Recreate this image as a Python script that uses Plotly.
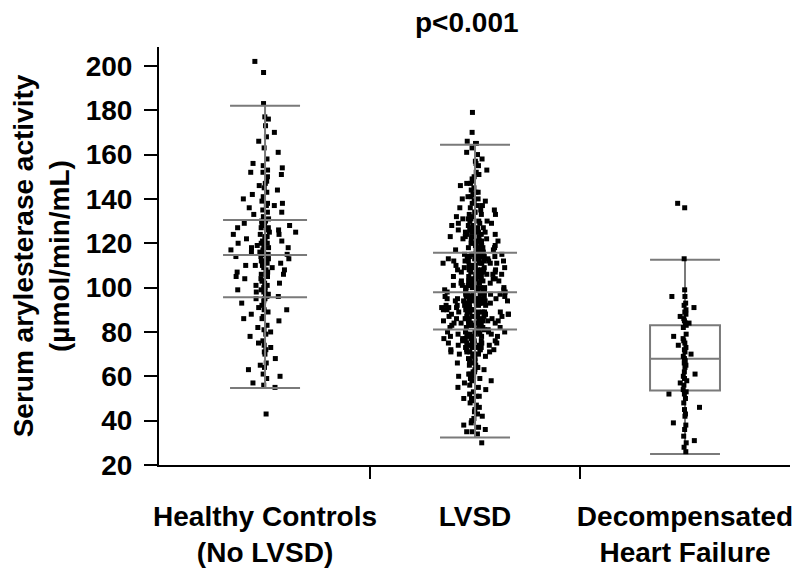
import plotly.graph_objects as go

# ---------------- data ----------------
categories = ["Healthy Controls<br>(No LVSD)", "LVSD", "Decompensated<br>Heart Failure"]
positions = [0, 1, 2]

healthy = [
    202, 197, 183, 177, 176, 173, 170, 168, 166, 163, 161, 158, 156, 155, 154, 153, 152, 152, 151, 150,
    148, 147, 146, 145, 144, 143, 142, 141, 140, 139, 138, 138, 137, 137, 136, 135, 134, 134, 133, 132,
    131, 130, 130, 129, 129, 128, 128, 127, 127, 127, 126, 126, 125, 125, 124, 124, 124, 123, 123, 122,
    122, 121, 121, 120, 120, 120, 119, 119, 118, 118, 118, 117, 117, 116, 116, 116, 115, 115, 115, 115,
    114, 114, 113, 113, 112, 112, 111, 111, 110, 110, 110, 109, 109, 108, 108, 107, 107, 106, 106, 105,
    105, 104, 104, 103, 103, 102, 102, 101, 101, 100, 100, 99, 99, 99, 98, 98, 97, 97, 96, 96,
    95, 95, 95, 94, 93, 92, 91, 90, 90, 89, 88, 87, 86, 86, 85, 83, 82, 81, 80, 79,
    78, 76, 75, 74, 73, 72, 71, 70, 68, 66, 65, 64, 63, 61, 60, 59, 57, 56, 55, 43,
]

lvsd = [
    179, 170, 166, 165, 165, 163, 161, 160, 158, 157, 156, 155, 153, 152, 151, 150, 149, 148, 147, 147,
    146, 145, 144, 143, 143, 142, 141, 141, 140, 140, 139, 139, 138, 137, 137, 136, 136, 135, 135, 134,
    134, 133, 133, 133, 132, 132, 131, 131, 131, 130, 130, 130, 129, 129, 129, 128, 128, 128, 127, 127,
    127, 126, 126, 126, 126, 125, 125, 125, 125, 124, 124, 124, 123, 123, 123, 123, 122, 122, 122, 121,
    121, 121, 121, 120, 120, 120, 119, 119, 119, 119, 118, 118, 118, 118, 117, 117, 117, 117, 116, 116,
    115, 115, 115, 115, 114, 114, 114, 114, 114, 114, 113, 113, 113, 113, 113, 112, 112, 112, 112, 112,
    112, 112, 111, 111, 111, 111, 111, 110, 110, 110, 110, 110, 110, 109, 109, 109, 109, 108, 108, 108,
    108, 108, 108, 107, 107, 107, 107, 107, 106, 106, 106, 106, 106, 106, 106, 105, 105, 105, 105, 105,
    104, 104, 104, 104, 104, 104, 103, 103, 103, 103, 103, 102, 102, 102, 102, 102, 102, 102, 101, 101,
    101, 101, 101, 100, 100, 100, 100, 100, 100, 99, 99, 99, 99, 99, 98, 98, 98, 98, 98, 98,
    97, 97, 97, 97, 97, 97, 96, 96, 96, 96, 96, 96, 95, 95, 95, 95, 95, 95, 95, 94,
    94, 94, 94, 94, 94, 93, 93, 93, 93, 93, 93, 93, 92, 92, 92, 92, 92, 92, 91, 91,
    91, 91, 91, 91, 90, 90, 90, 90, 90, 90, 90, 89, 89, 89, 89, 89, 89, 88, 88, 88,
    88, 88, 88, 87, 87, 87, 87, 87, 87, 87, 86, 86, 86, 86, 86, 86, 85, 85, 85, 85,
    85, 85, 84, 84, 84, 84, 84, 84, 83, 83, 83, 83, 83, 82, 82, 82, 82, 81, 81, 81,
    80, 80, 80, 80, 80, 80, 79, 79, 79, 79, 79, 79, 78, 78, 78, 78, 78, 77, 77, 77,
    77, 77, 76, 76, 76, 76, 76, 75, 75, 75, 75, 75, 74, 74, 74, 74, 74, 73, 73, 73,
    73, 72, 72, 72, 72, 72, 71, 71, 71, 71, 70, 70, 70, 70, 69, 69, 68, 68, 67, 67,
    66, 66, 65, 65, 64, 64, 63, 63, 62, 62, 61, 61, 60, 60, 59, 59, 58, 58, 57, 56,
    55, 55, 54, 53, 52, 51, 51, 50, 50, 49, 48, 47, 46, 45, 44, 43, 42, 41, 40, 39,
    38, 37, 36, 35, 35, 34, 30,
]

dhf = [
    138, 136, 113, 99, 96, 96, 93, 92, 91, 90, 89, 88, 87, 86, 85, 84, 84, 83, 82, 79,
    78, 77, 76, 75, 74, 73, 72, 71, 70, 69, 68, 67, 66, 65, 64, 62, 61, 60, 59, 58,
    57, 56, 54, 53, 52, 52, 50, 48, 46, 45, 43, 42, 39, 38, 36, 33, 31, 30, 28, 26,
]

q1 = [95.7, 81.1, 53.6]
median = [114.7, 97.9, 67.9]
q3 = [130.5, 115.7, 83.0]
lower_whisker = [54.7, 32.4, 25.0]
upper_whisker = [182.0, 164.4, 112.6]

y_ticks = [20, 40, 60, 80, 100, 120, 140, 160, 180, 200]
p_label = "p&lt;0.001"
y_title = "Serum arylesterase activity<br>(µmol/min/mL)"

# ---------------- styling ----------------
FONT = "Liberation Sans, Arial, Helvetica, sans-serif"
GRAY = "#7a7a7a"
FS = 28

# (slice step for scattered points, core width, scattered width) per group
spread_style = [(2, 0.05, 0.33), (2, 0.10, 0.32), (4, 0.02, 0.20)]

fig = go.Figure()

# Box for decompensated heart failure (full box)
fig.add_trace(go.Box(
    x=[positions[2]], q1=[q1[2]], median=[median[2]], q3=[q3[2]],
    lowerfence=[lower_whisker[2]], upperfence=[upper_whisker[2]],
    width=0.333, whiskerwidth=1, boxpoints=False,
    line=dict(color=GRAY, width=2), fillcolor="rgba(0,0,0,0)",
    showlegend=False, hoverinfo="skip",
))

# Jittered points for each group: a dense central column plus scattered points
for pos, vals, (step, w_core, w_wide) in zip(positions, [healthy, lvsd, dhf], spread_style):
    wide = vals[::step]
    core = [v for i, v in enumerate(vals) if i % step != 0]
    for sub, w in ((core, w_core), (wide, w_wide)):
        fig.add_trace(go.Box(
            x=[pos] * len(sub), y=sub,
            boxpoints="all", jitter=1, pointpos=0, width=w, whiskerwidth=0,
            line=dict(color="rgba(0,0,0,0)", width=0), fillcolor="rgba(0,0,0,0)",
            marker=dict(symbol="square", size=5, color="black", line=dict(width=0)),
            showlegend=False, hoverinfo="skip",
        ))

# Quartile lines and whiskers (no box sides) for first two groups
for i in (0, 1):
    fig.add_trace(go.Scatter(
        x=[positions[i]], y=[median[i]], mode="markers",
        marker=dict(size=1, opacity=0),
        error_y=dict(type="data", symmetric=False,
                     array=[upper_whisker[i] - median[i]],
                     arrayminus=[median[i] - lower_whisker[i]],
                     width=35, thickness=2, color=GRAY),
        showlegend=False, hoverinfo="skip",
    ))
    fig.add_trace(go.Scatter(
        x=[positions[i]] * 3, y=[q1[i], median[i], q3[i]], mode="markers",
        marker=dict(symbol="line-ew", size=60, line=dict(width=2, color=GRAY)),
        showlegend=False, hoverinfo="skip",
    ))

fig.add_annotation(
    text=p_label, x=0.96, xref="x", y=1.058, yref="paper",
    xanchor="center", yanchor="middle", showarrow=False,
    font=dict(family=FONT, size=FS, color="black", weight="bold"),
)

# the page body adds an 8px offset, so the figure is 792x562
fig.update_layout(
    width=792, height=562,
    margin=dict(l=151, r=10, t=39, b=105),
    paper_bgcolor="white", plot_bgcolor="white",
    boxmode="overlay", showlegend=False,
    font=dict(family=FONT, color="black"),
)

fig.update_xaxes(
    range=[-0.505, 2.5], tickmode="array", tickvals=positions, ticktext=categories,
    ticks="", showline=True, linewidth=2, linecolor="black",
    showgrid=False, zeroline=False, automargin=False,
    minor=dict(tickmode="array", tickvals=[0.5, 1.5], ticks="outside", ticklen=12,
               tickwidth=2, tickcolor="black", showgrid=False),
    tickfont=dict(family=FONT, size=FS, color="black", weight="bold"),
    ticklabelstandoff=25,
)

fig.update_yaxes(
    range=[20, 208.5], tickmode="array", tickvals=y_ticks,
    ticks="outside", ticklen=13, tickwidth=2, tickcolor="black",
    showline=True, linewidth=2, linecolor="black",
    showgrid=False, zeroline=False, automargin=False,
    tickfont=dict(family=FONT, size=FS, color="black", weight="bold"),
    ticklabelstandoff=6,
    title=dict(text=y_title, font=dict(family=FONT, size=FS, color="black", weight="bold"),
               standoff=27),
)

fig.write_html("out.html")
